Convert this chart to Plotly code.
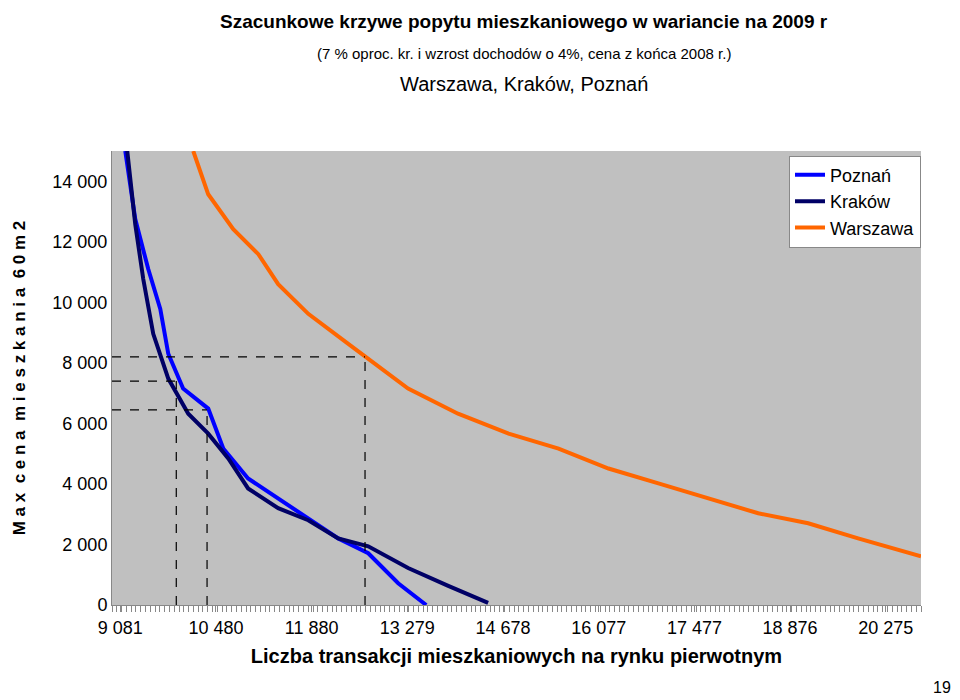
import plotly.graph_objects as go

# estimated waypoints
poz_x = [9154, 9300, 9490, 9666, 9783, 10000, 10367, 10587, 10950, 11390, 11830, 12268, 12707, 13145, 13555]
poz_y = [15000, 12750, 11100, 9780, 8300, 7150, 6490, 5170, 4180, 3520, 2870, 2200, 1710, 720, 0]

krk_x = [9183, 9300, 9417, 9563, 9783, 10075, 10367, 10660, 10950, 11390, 11830, 12268, 12707, 13290, 13877, 14460]
krk_y = [15000, 12580, 10770, 8960, 7480, 6320, 5660, 4840, 3850, 3200, 2800, 2200, 1940, 1220, 630, 70]

waw_x = [10148, 10367, 10733, 11100, 11390, 11830, 12415, 12707, 13290, 14020, 14760, 15490, 16220, 16950, 17680, 18410, 19140, 19870, 20790]
waw_y = [15000, 13570, 12420, 11590, 10600, 9620, 8630, 8130, 7150, 6320, 5660, 5170, 4510, 4020, 3520, 3030, 2700, 2200, 1610]

x_ticks = [9081, 10480, 11880, 13279, 14678, 16077, 17477, 18876, 20275]
y_ticks = [0, 2000, 4000, 6000, 8000, 10000, 12000, 14000]

# dashed reading lines
guide_x = [9900, 10350, 12660]
guide_y = [7400, 6450, 8200]

fig = go.Figure()
for name, xs, ys, col in [("Poznań", poz_x, poz_y, "#0000FF"),
                          ("Kraków", krk_x, krk_y, "#000066"),
                          ("Warszawa", waw_x, waw_y, "#FF6600")]:
    fig.add_trace(go.Scatter(x=xs, y=ys, mode="lines", name=name,
                             line=dict(color=col, width=4)))

for gx, gy in zip(guide_x, guide_y):
    fig.add_shape(type="line", x0=8960, x1=gx, y0=gy, y1=gy,
                  line=dict(color="black", width=1.2, dash="dash"))
    fig.add_shape(type="line", x0=gx, x1=gx, y0=0, y1=gy,
                  line=dict(color="black", width=1.2, dash="dash"))
fig.add_shape(type="line", x0=10350, x1=10350, y0=0, y1=-500,
              line=dict(color="black", width=1.2, dash="dash"))

fig.update_layout(
    width=960, height=700, paper_bgcolor="white", plot_bgcolor="#C0C0C0",
    margin=dict(l=104, r=47, t=143, b=103, autoexpand=False),
    font=dict(family="Liberation Sans, Arial", color="black", size=18),
    showlegend=True,
    legend=dict(x=1, xanchor="right", y=0.99, yanchor="top", bgcolor="white",
                bordercolor="#888", borderwidth=1, font=dict(size=18),
                tracegroupgap=0, itemwidth=30),
    xaxis=dict(range=[8960, 20790], tickvals=x_ticks, automargin=False,
               ticktext=[f"{v:,}".replace(",", " ") for v in x_ticks],
               showgrid=False, zeroline=False, showline=True, linecolor="#888",
               ticks="outside", ticklen=6, tickcolor="#888",
               minor=dict(dtick=70, ticks="outside", ticklen=6, tickcolor="#888"),
               title=dict(text="<b>Liczba transakcji mieszkaniowych na rynku pierwotnym</b>",
                          font=dict(size=20), standoff=12)),
    yaxis=dict(range=[0, 15000], tickvals=y_ticks, automargin=False,
               ticktext=[f"{v:,}".replace(",", " ") for v in y_ticks],
               showgrid=False, zeroline=False, showline=True, linecolor="#888",
               ticks="", ticklen=4,
               title=dict(text="<b>M a x  c e n a  m i e s z k a n i a  6 0 m 2</b>",
                          font=dict(size=17), standoff=22)),
)
for txt, ypix, size in [("<b>Szacunkowe krzywe popytu mieszkaniowego w wariancie na 2009 r</b>", 14, 19),
                        ("(7 % oproc. kr. i wzrost dochodów o 4%, cena z końca 2008 r.)", 45, 15),
                        ("Warszawa, Kraków, Poznań", 76, 20)]:
    fig.add_annotation(text=txt, x=0.54, xref="paper", y=1 - ypix / 700, yref="paper",
                       showarrow=False, font=dict(size=size), yanchor="middle")
fig.update_annotations(yref="paper")
for a in fig.layout.annotations:
    a.update(yref="container" if False else "paper")
fig.add_annotation(text="19", x=945, y=690, xref="paper", yref="paper",
                   showarrow=False, font=dict(size=16))
fig.layout.annotations[-1].update(x=945 / 960 * 960, y=0)
# position annotations in pixel terms relative to plot area
ann = list(fig.layout.annotations)
plot_w, plot_h = 960 - 104 - 47, 700 - 143 - 103
for a, ypix in zip(ann[:3], [14, 45, 76]):
    a.update(x=(480 + 36 - 104) / plot_w, y=(700 - 103 - ypix) / plot_h)
ann[3].update(x=(945 - 104) / plot_w, y=(700 - 103 - 690) / plot_h)
fig.write_html("out.html")
